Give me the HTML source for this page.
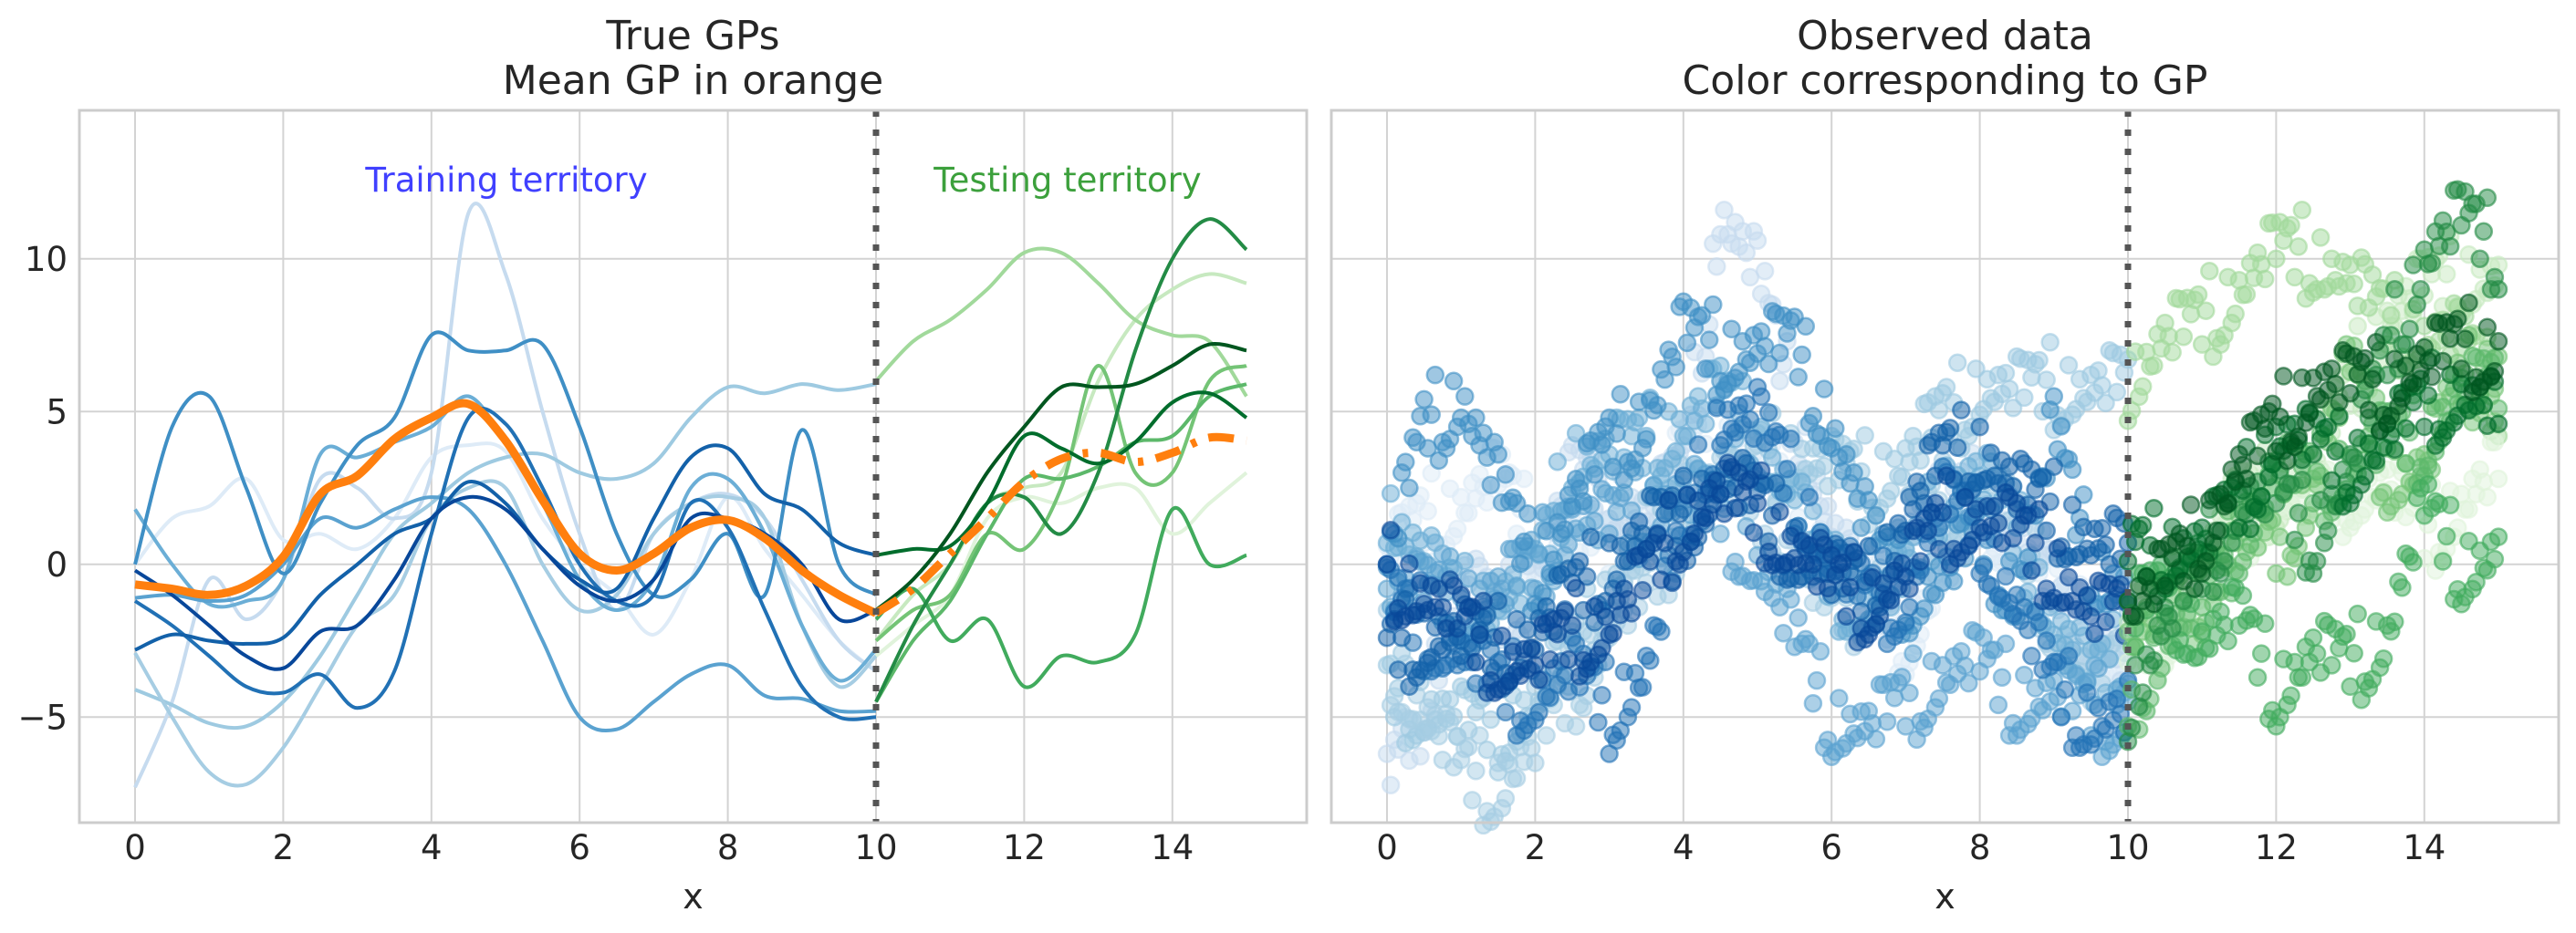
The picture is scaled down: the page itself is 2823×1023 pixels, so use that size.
<!DOCTYPE html>
<html><head><meta charset="utf-8"><style>
body{margin:0;background:#fff}
svg{display:block;font-family:"DejaVu Sans","Liberation Sans",sans-serif}
</style></head><body>
<svg id="chart" width="2823" height="1023" viewBox="0 0 2823 1023" xmlns="http://www.w3.org/2000/svg">
<g id="left"></g>
<g id="right"></g>
</svg>
<script>
const xTicks=[0,2,4,6,8,10,12,14];
const yTicks=[10,5,0,-5];
const yTickLabels=["10","5","0","\u22125"];
const trainX=[0,0.5,1,1.5,2,2.5,3,3.5,4,4.5,5,5.5,6,6.5,7,7.5,8,8.5,9,9.5,10];
const testX=[10,10.5,11,11.5,12,12.5,13,13.5,14,14.5,15];
const meanTrain=[-0.66,-0.8,-1.0,-0.7,0.25,2.3,2.9,4.1,4.8,5.25,4.05,2.1,0.35,-0.2,0.35,1.2,1.45,0.85,-0.2,-1.0,-1.6];
const meanTest=[-1.6,-0.8,0.35,1.5,2.7,3.45,3.65,3.35,3.65,4.15,4.05];
const blue0=[0,1.5,1.9,2.8,0.8,1,0.5,1.5,3.5,3.9,3.7,1.5,0,-1,-2.3,-0.5,2.2,0.5,-1,-2.5,-3.5];
const blue1=[-7.3,-4.5,-0.5,-1.8,-0.5,2.8,2.5,1.5,3,11.5,9.5,5,1,-1.5,1,2,2.3,1.5,-0.5,-2.5,-3.5];
const blue2=[-4.1,-4.6,-5.2,-5.3,-4.5,-3,-1,1,2,3,3.5,3.6,3,2.8,3.3,4.8,5.8,5.6,5.9,5.7,5.9];
const blue3=[-2.9,-5,-6.8,-7.2,-6,-4,-2,-1,1.5,2.5,2.5,0,-1.5,-1,1,2,2.2,1.5,-2,-4,-3];
const blue4=[1.8,0,-1.3,-1.2,-0.5,3.6,3.5,4,4.5,5.5,4,2,-0.5,-1.5,-0.5,2.5,2.8,1,-2,-3.8,-2.8];
const blue5=[-1.1,-1,-1.2,-1,0,1.5,1.2,1.8,2.2,1.8,0,-2.5,-5,-5.4,-4.5,-3.6,-3.3,-4.3,-4.4,-4.8,-4.8];
const blue6=[0,4.5,5.5,2.5,-0.3,2,3.9,4.8,7.5,7,7,7.2,4.5,1,-1,-0.5,1,-1,4.4,0,-1];
const blue7=[-1.2,-2,-3,-4,-4.2,-3.6,-4.7,-3.5,1,4.8,4.6,2.5,0,-1.2,-1,2,1.2,-1.5,-4,-5,-5];
const blue8=[-2.8,-2.3,-2.5,-2.6,-2.4,-1,0,1,1.5,2.7,2,0.5,-0.5,-0.8,1.5,3.5,3.8,2.3,1.8,0.7,0.3];
const blue9=[-0.2,-1,-2,-3,-3.4,-2.2,-2,-0.5,1.5,2.2,1.8,0.5,-0.7,-1.2,-0.5,1.5,1.5,1,0,-1.8,-1.5];
const green0=[-2.5,-1,0,2,2.5,3,6,8,9,9.5,9.2];
const green1=[6,7.3,8,9,10.2,10.2,9.2,8,7.5,7.3,5.5];
const green2=[-3,-2,-1,1.5,2.2,2,2.5,2.5,1,2,3];
const green3=[-2.5,-1.5,-1,1,0.5,2.5,6.5,3,3,6,6.5];
const green4=[-4.5,-2.5,-1.2,1,2.8,2.8,3.2,4,4.2,5.5,5.9];
const green5=[-1.8,-0.8,-2.5,-1.8,-4,-3,-3.2,-2.3,1.8,0,0.3];
const green6=[-4.5,-2,0,2,2.2,1,3,7,10,11.3,10.3];
const green7=[0.3,0.5,0.6,2,4.2,3.8,3.3,4,5.3,5.6,4.8];
const green8=[-1.5,-0.5,1,3,4.5,5.8,5.8,5.9,6.5,7.2,7];
const jitter=[0.6,-0.9,0.2,1.1,-0.4,-1.3,0.8,0.1,-0.7,1.4,-0.2,0.5,-1.1,0.9,-0.5,0.3,-1.5,1.0,-0.1,0.7,-0.8,1.2,-0.3,-1.0,0.4];

const blues=[blue0,blue1,blue2,blue3,blue4,blue5,blue6,blue7,blue8,blue9];
const greens=[green0,green1,green2,green3,green4,green5,green6,green7,green8];
const blueCols=["#deebf7","#c6dbef","#9ecae1","#a6cde3","#6baed6","#5aa2d0","#3f8fc5","#2171b5","#1361a9","#08479a"];
const greenCols=["#c7e9c0","#a1d99b","#e0f3db","#74c476","#5cb86a","#41ab5d","#238b45","#006d2c","#00561f"];

const NS="http://www.w3.org/2000/svg";
const Y0=618.8, YS=33.5, TOP=121, BOT=902;
function yPix(v){return Y0-v*YS;}
function mk(tag,attrs,parent){const e=document.createElementNS(NS,tag);for(const k in attrs)e.setAttribute(k,attrs[k]);parent.appendChild(e);return e;}
function interp(xs,ys,x){for(let i=0;i<xs.length-1;i++){if(x<=xs[i+1]){const t=(x-xs[i])/(xs[i+1]-xs[i]);return ys[i]+(ys[i+1]-ys[i])*t;}}return ys[ys.length-1];}
function smoothPath(xs,ys,xf){const p=xs.map((x,i)=>[xf(x),yPix(ys[i])]);let d="M"+p[0][0].toFixed(1)+","+p[0][1].toFixed(1);
for(let i=0;i<p.length-1;i++){const p0=p[Math.max(0,i-1)],p1=p[i],p2=p[i+1],p3=p[Math.min(p.length-1,i+2)];
const c1=[p1[0]+(p2[0]-p0[0])/6,p1[1]+(p2[1]-p0[1])/6],c2=[p2[0]-(p3[0]-p1[0])/6,p2[1]-(p3[1]-p1[1])/6];
d+=" C"+c1[0].toFixed(1)+","+c1[1].toFixed(1)+" "+c2[0].toFixed(1)+","+c2[1].toFixed(1)+" "+p2[0].toFixed(1)+","+p2[1].toFixed(1);}return d;}

function axes(g,L,R,x0,title1,title2,showY){
  const xf=v=>x0+v*81.2;
  for(const t of xTicks){const l=mk('line',{x1:xf(t),x2:xf(t),y1:TOP,y2:BOT,stroke:'#d3d3d3','stroke-width':2},g);
    
    const tx=mk('text',{x:xf(t),y:942,'font-size':37,'text-anchor':'middle',fill:'#262626'},g);tx.textContent=t;
    }
  yTicks.forEach((t,i)=>{const l=mk('line',{x1:L,x2:R,y1:yPix(t),y2:yPix(t),stroke:'#d3d3d3','stroke-width':2},g);
    
    if(showY){const tx=mk('text',{x:74,y:yPix(t)+13,'font-size':37,'text-anchor':'end',fill:'#262626'},g);tx.textContent=yTickLabels[i];
    }});
  const c=(L+R)/2;
  const a=mk('text',{x:c,y:54,'font-size':44,'text-anchor':'middle',fill:'#262626'},g);a.textContent=title1;
  
  const b=mk('text',{x:c,y:103,'font-size':44,'text-anchor':'middle',fill:'#262626'},g);b.textContent=title2;
  
  const xl=mk('text',{x:c,y:996,'font-size':38,'text-anchor':'middle',fill:'#262626'},g);xl.textContent='x';
  
  return xf;
}
function frame(g,L,R){const f=mk('rect',{x:L,y:TOP,width:R-L,height:BOT-TOP,fill:'none',stroke:'#cccccc','stroke-width':3},g);
  }
function vline(g,xf){const v=mk('line',{x1:xf(10),x2:xf(10),y1:TOP,y2:BOT,stroke:'#555','stroke-width':7,'stroke-dasharray':'7,14'},g);
  }

// LEFT
const gl=document.getElementById('left');
const xfl=axes(gl,87,1432,148,'True GPs','Mean GP in orange',true);
blues.forEach((s,i)=>{const p=mk('path',{d:smoothPath(trainX,s,xfl),fill:'none',stroke:blueCols[i],'stroke-width':4},gl);
  });
greens.forEach((s,i)=>{const p=mk('path',{d:smoothPath(testX,s,xfl),fill:'none',stroke:greenCols[i],'stroke-width':4},gl);
  });
const mt=mk('path',{d:smoothPath(trainX,meanTrain,xfl),fill:'none',stroke:'#ff7f0e','stroke-width':9},gl);

const ms=mk('path',{d:smoothPath(testX,meanTest,xfl),fill:'none',stroke:'#ff7f0e','stroke-width':9,'stroke-dasharray':'28,14,6,14'},gl);

vline(gl,xfl);
const t1=mk('text',{x:555,y:210,'font-size':37,'text-anchor':'middle',fill:'#4040ff'},gl);t1.textContent='Training territory';

const t2=mk('text',{x:1170,y:210,'font-size':37,'text-anchor':'middle',fill:'#3ca03c'},gl);t2.textContent='Testing territory';

frame(gl,87,1432);

// RIGHT
const gr=document.getElementById('right');
const xfr=axes(gr,1459,2804,1520,'Observed data','Color corresponding to GP',false);
function scatter(xs,s,col,x0,x1,k0){let k=k0;for(let x=x0;x<=x1+1e-9;x+=0.05){const y=interp(xs,s,x)+jitter[k%jitter.length];k+=7;
  const c=mk('circle',{cx:xfr(x).toFixed(1),cy:yPix(y).toFixed(1),r:9,fill:col,'fill-opacity':0.5,stroke:col,'stroke-opacity':0.6,'stroke-width':2.5},gr);
  }}
blues.forEach((s,i)=>scatter(trainX,s,blueCols[i],0,10,i*3));
greens.forEach((s,i)=>scatter(testX,s,greenCols[i],10,15,i*5));
vline(gr,xfr);
frame(gr,1459,2804);
</script>
</body></html>
